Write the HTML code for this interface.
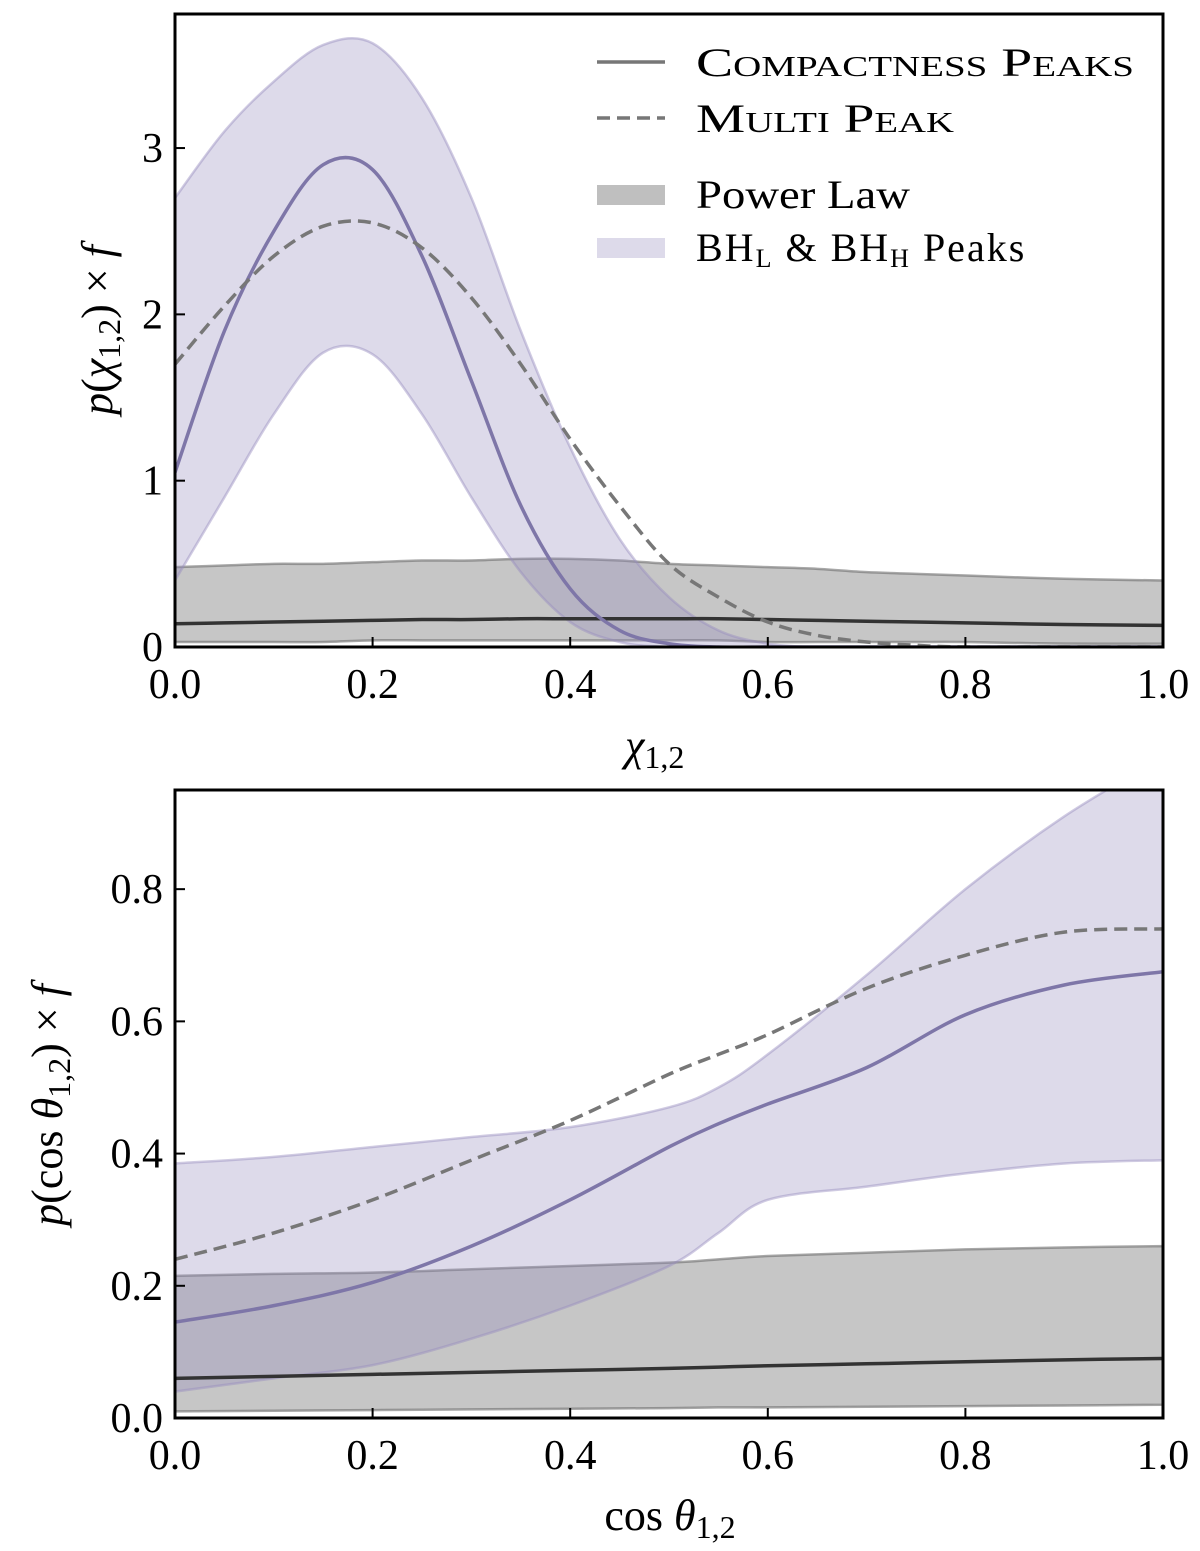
<!DOCTYPE html>
<html><head><meta charset="utf-8"><style>
body{margin:0;background:#fff;}
svg{display:block;font-family:"Liberation Serif","DejaVu Serif",serif;}
</style></head><body>
<svg id="fig" width="1200" height="1551" viewBox="0 0 1200 1551"></svg>
<script>
// ---- Top panel data (chi) ----
const chiX = [0,0.05,0.1,0.15,0.2,0.25,0.3,0.35,0.4,0.45,0.5,0.55,0.6,0.65,0.7,0.75,0.8,0.9,1.0];
const chiPeaksUpper = [2.7,3.1,3.4,3.62,3.63,3.3,2.7,1.9,1.2,0.65,0.3,0.1,0.02,0,0,0,0,0,0];
const chiPeaksLower = [0.4,0.9,1.4,1.77,1.76,1.4,0.9,0.45,0.15,0.03,0,0,0,0,0,0,0,0,0];
const chiPeaksMedian = [1.05,1.9,2.5,2.9,2.87,2.35,1.6,0.85,0.35,0.1,0.02,0,0,0,0,0,0,0,0];
const chiMulti = [1.7,2.05,2.35,2.53,2.55,2.4,2.1,1.7,1.25,0.85,0.5,0.3,0.15,0.07,0.03,0.01,0,0,0];
const chiPLUpper = [0.48,0.49,0.5,0.5,0.51,0.52,0.52,0.53,0.53,0.52,0.5,0.49,0.48,0.47,0.45,0.44,0.43,0.41,0.4];
const chiPLLower = [0.03,0.03,0.03,0.03,0.04,0.04,0.04,0.04,0.04,0.04,0.04,0.04,0.03,0.03,0.03,0.03,0.03,0.02,0.02];
const chiPLMedian = [0.14,0.145,0.15,0.155,0.16,0.165,0.165,0.17,0.17,0.17,0.17,0.17,0.165,0.16,0.155,0.15,0.145,0.135,0.13];
const chiYTicks = [0,1,2,3];
// ---- Bottom panel data (cos theta) ----
const cosX = [0,0.1,0.2,0.3,0.4,0.5,0.55,0.6,0.7,0.8,0.9,1.0];
const cosPeaksUpper = [0.385,0.395,0.41,0.425,0.44,0.47,0.5,0.55,0.67,0.8,0.91,1.0];
const cosPeaksLower = [0.04,0.06,0.08,0.12,0.17,0.23,0.28,0.33,0.35,0.37,0.385,0.39];
const cosPeaksMedian = [0.145,0.17,0.205,0.26,0.33,0.41,0.445,0.475,0.53,0.61,0.655,0.675];
const cosMulti = [0.24,0.28,0.33,0.39,0.45,0.52,0.55,0.58,0.65,0.70,0.735,0.74];
const cosPLUpper = [0.215,0.218,0.22,0.225,0.23,0.235,0.24,0.245,0.25,0.255,0.258,0.26];
const cosPLLower = [0.01,0.011,0.012,0.013,0.014,0.015,0.016,0.016,0.017,0.018,0.019,0.02];
const cosPLMedian = [0.06,0.063,0.066,0.069,0.072,0.075,0.077,0.079,0.082,0.085,0.088,0.09];
const cosYTicks = [0.0,0.2,0.4,0.6,0.8];
const xTicks = [0.0,0.2,0.4,0.6,0.8,1.0];

const NS="http://www.w3.org/2000/svg";
const svg=document.getElementById('fig');
function mk(tag,attrs,parent){const e=document.createElementNS(NS,tag);for(const k in attrs)e.setAttribute(k,attrs[k]);(parent||svg).appendChild(e);return e;}
function smooth(pts){
  let d='';
  for(let i=0;i<pts.length-1;i++){
    const p0=pts[Math.max(0,i-1)],p1=pts[i],p2=pts[i+1],p3=pts[Math.min(pts.length-1,i+2)];
    const c1=[p1[0]+(p2[0]-p0[0])/6,p1[1]+(p2[1]-p0[1])/6];
    const c2=[p2[0]-(p3[0]-p1[0])/6,p2[1]-(p3[1]-p1[1])/6];
    d+=' C'+c1.join(',')+' '+c2.join(',')+' '+p2.join(',');
  }
  return d;
}

function panel(cfg){
  const {L,R,T,B,ymax,name}=cfg;
  const sx=v=>L+v*(R-L);
  const sy=v=>B-Math.max(0,v)/ymax*(B-T);
  const g=mk('g',{});
  
  
  const clipId=name+'-clip';
  const cp=mk('clipPath',{id:clipId},g);mk('rect',{x:L,y:T,width:R-L,height:B-T},cp);
  const pg=mk('g',{'clip-path':'url(#'+clipId+')'},g);
  function band(xs,up,lo,fill,stroke,nm){
    const u=xs.map((x,i)=>[sx(x),sy(up[i])]);
    const l=xs.map((x,i)=>[sx(x),sy(lo[i])]).reverse();
    const d='M'+u[0].join(',')+smooth(u)+' L'+l[0].join(',')+smooth(l)+'Z';
    const p=mk('path',{d,fill,stroke,'stroke-width':2.5},pg);
    
  }
  function line(xs,ys,stroke,dash,nm){
    const pts=xs.map((x,i)=>[sx(x),sy(ys[i])]);
    const p=mk('path',{d:'M'+pts[0].join(',')+smooth(pts),fill:'none',stroke,'stroke-width':3.5,'stroke-dasharray':dash||'none'},pg);
    
  }
  band(cfg.x,cfg.plU,cfg.plL,'rgba(128,128,128,0.45)','rgba(110,110,110,0.6)','power-law-band');
  band(cfg.x,cfg.pkU,cfg.pkL,'rgba(150,140,190,0.32)','rgba(150,140,190,0.45)','peaks-band');
  line(cfg.x,cfg.plM,'#333',null,'power-law-median');
  line(cfg.x,cfg.pkM,'#7e76a8',null,'peaks-median');
  line(cfg.x,cfg.mp,'#777','13,7','multi-peak-line');
  const fr=mk('rect',{x:L,y:T,width:R-L,height:B-T,fill:'none',stroke:'#000','stroke-width':3},g);
  
  xTicks.forEach(v=>{
    mk('line',{x1:sx(v),x2:sx(v),y1:B,y2:B-10,stroke:'#000','stroke-width':2},g);
    const t=mk('text',{x:sx(v),y:B+51,'text-anchor':'middle','font-size':42},g);t.textContent=v.toFixed(1);
    
  });
  cfg.yt.forEach(v=>{
    mk('line',{x1:L,x2:L+10,y1:sy(v),y2:sy(v),stroke:'#000','stroke-width':2},g);
    const t=mk('text',{x:L-12,y:sy(v)+14,'text-anchor':'end','font-size':42},g);t.textContent=cfg.yfmt(v);
    
  });
  return g;
}
panel({L:175,R:1163,T:14,B:647,ymax:3.806,name:'chi-panel',x:chiX,pkU:chiPeaksUpper,pkL:chiPeaksLower,pkM:chiPeaksMedian,mp:chiMulti,plU:chiPLUpper,plL:chiPLLower,plM:chiPLMedian,yt:chiYTicks,yfmt:v=>String(v)});
panel({L:175,R:1163,T:790,B:1418,ymax:0.95,name:'cos-panel',x:cosX,pkU:cosPeaksUpper,pkL:cosPeaksLower,pkM:cosPeaksMedian,mp:cosMulti,plU:cosPLUpper,plL:cosPLLower,plM:cosPLMedian,yt:cosYTicks,yfmt:v=>v.toFixed(1)});
</script>
<svg style="position:absolute;left:0;top:0" width="1200" height="1551">
<g font-family="Liberation Serif, DejaVu Serif, serif">
<text x="625" y="760" font-size="44" font-style="italic">χ<tspan font-style="normal" font-size="32" dy="8">1,2</tspan></text>
<text x="670" y="1530" font-size="44" text-anchor="middle">cos <tspan font-style="italic">θ</tspan><tspan font-size="32" dy="8">1,2</tspan></text>
<text transform="translate(112,330) rotate(-90)" font-size="44" text-anchor="middle"><tspan font-style="italic">p</tspan>(<tspan font-style="italic">χ</tspan><tspan font-size="32" dy="8">1,2</tspan><tspan dy="-8">) × </tspan><tspan font-style="italic">f</tspan></text>
<text transform="translate(62,1105) rotate(-90)" font-size="44" text-anchor="middle"><tspan font-style="italic">p</tspan>(cos <tspan font-style="italic">θ</tspan><tspan font-size="32" dy="8">1,2</tspan><tspan dy="-8">) × </tspan><tspan font-style="italic">f</tspan></text>
<g>
<line x1="597" x2="665" y1="62" y2="62" stroke="#777" stroke-width="3.5"/>
<text x="696" y="76" font-size="40" textLength="438" lengthAdjust="spacingAndGlyphs" style="font-variant:small-caps">Compactness Peaks</text>
<line x1="597" x2="665" y1="118" y2="118" stroke="#777" stroke-width="3.5" stroke-dasharray="13,7"/>
<text x="696" y="132" font-size="40" textLength="258" lengthAdjust="spacingAndGlyphs" style="font-variant:small-caps">Multi Peak</text>
<rect x="597" y="185" width="68" height="20" fill="rgba(128,128,128,0.5)"/>
<text x="696" y="208" font-size="40" textLength="214" lengthAdjust="spacingAndGlyphs">Power Law</text>
<rect x="597" y="238" width="68" height="20" fill="rgba(150,140,190,0.32)"/>
<text x="696" y="261" font-size="40" letter-spacing="2">BH<tspan font-size="26" dy="6">L</tspan><tspan dy="-6"> &amp; BH</tspan><tspan font-size="26" dy="6">H</tspan><tspan dy="-6"> Peaks</tspan></text>
</g>
</g>
</svg>
</body></html>
